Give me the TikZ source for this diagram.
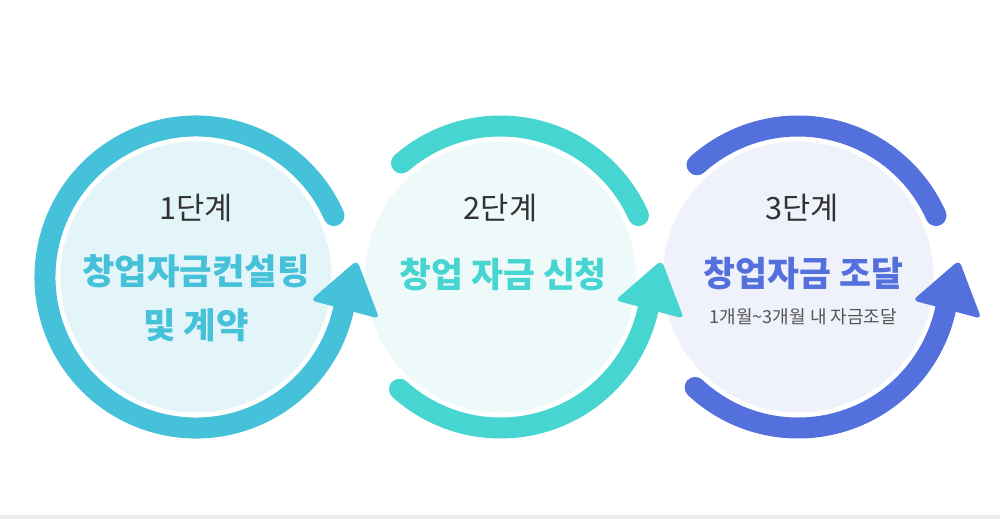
\documentclass[tikz,border=0pt]{standalone}
\usepackage{fontspec}
\setmainfont{Noto Sans CJK KR}
\usetikzlibrary{positioning}
\definecolor{skyblue}{HTML}{45C1DA}
\definecolor{skyfill}{HTML}{E4F5F9}
\definecolor{mint}{HTML}{46D5D0}
\definecolor{mintfill}{HTML}{EEFAFA}
\definecolor{royal}{HTML}{5470DC}
\definecolor{royalfill}{HTML}{F0F2FB}
\definecolor{inkgray}{HTML}{333333}
\definecolor{notegray}{HTML}{555555}

\begin{document}
\begin{tikzpicture}[x=0.75pt, y=0.75pt]
    \tikzstyle{disc} = [circle, minimum size=203.25pt, inner sep=0pt]
    \tikzstyle{ring} = [line width=15.75pt, line cap=round]
    \tikzstyle{head} = [rounded corners=4pt]
    \tikzstyle{stage} = [font=\fontsize{23}{27}\selectfont, text=inkgray, inner sep=0pt]
    \tikzstyle{task} = [font=\fontsize{26}{41}\selectfont\bfseries, align=center, inner sep=0pt]
    \tikzstyle{note} = [font=\fontsize{13.5}{16}\selectfont, text=notegray, inner sep=0pt]

    \useasboundingbox (0,0) rectangle (1000,519);
    \fill[black!7] (0,0) rectangle (1000,4);

    % Filled discs, side by side
    \node (c1) [disc, fill=skyfill] at (196,242) {};
    \node (c2) [disc, fill=mintfill, right=24.75pt of c1] {};
    \node (c3) [disc, fill=royalfill, right=19.5pt of c2] {};

    % Rings and their arrow heads
    \draw[ring, skyblue] (c1.center) ++(24:151) arc[start angle=24, end angle=350, radius=151];
    \fill[head, skyblue, shift={(c1.center)}] (6:162) -- (-11.5:117) -- (-12.8:188) -- cycle;

    \draw[ring, mint] (c2.center) ++(24:151) arc[start angle=24, end angle=131, radius=151];
    \draw[ring, mint] (c2.center) ++(228:151) arc[start angle=228, end angle=350, radius=151];
    \fill[head, mint, shift={(c2.center)}] (6:162) -- (-11.5:117) -- (-12.8:188) -- cycle;

    \draw[ring, royal] (c3.center) ++(24:151) arc[start angle=24, end angle=132, radius=151];
    \draw[ring, royal] (c3.center) ++(227:151) arc[start angle=227, end angle=350, radius=151];
    \fill[head, royal, shift={(c3.center)}] (6:162) -- (-11.5:117) -- (-12.8:188) -- cycle;

    % Texts
    \node (s1) [stage] at ([yshift=52pt]c1.center) {1단계};
    \node (t1) [task, text=skyblue, font=\fontsize{26.5}{41}\selectfont\bfseries] at ([yshift=-16pt]c1.center) {창업자금컨설팅\\및 계약};

    \node (s2) [stage] at ([yshift=52pt]c2.center) {2단계};
    \node (t2) [task, text=mint] at ([xshift=2pt, yshift=2pt]c2.center) {창업 자금 신청};

    \node (s3) [stage] at ([xshift=3pt, yshift=52pt]c3.center) {3단계};
    \node (t3) [task, text=royal] at ([xshift=4pt, yshift=3pt]c3.center) {창업자금 조달};
    \node (n3) [note, below=14pt of t3] {1개월\textasciitilde3개월 내 자금조달};
\end{tikzpicture}
\end{document}
